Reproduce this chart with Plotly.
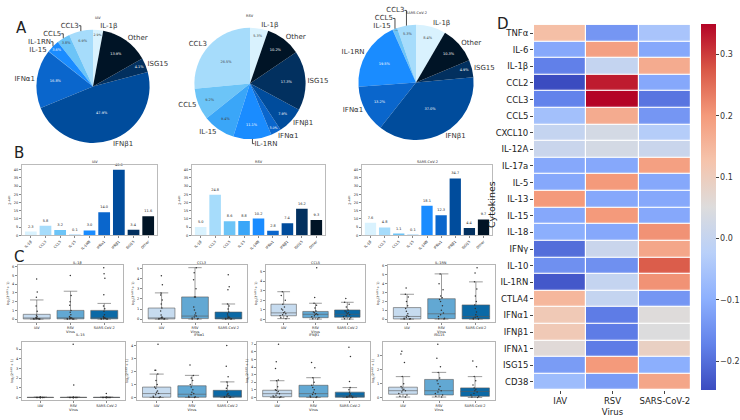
import plotly.graph_objects as go

W, H = 740, 420
FONT = "DejaVu Sans"

# ---------------- DATA ----------------
viruses = ["IAV", "RSV", "SARS-CoV-2"]

# Panel A (pie percentages)
pie_labels_iav = ["IL-1β", "CCL3", "CCL5", "IL-1RN", "IL-15", "IFNα1", "IFNβ1", "ISG15", "Other"]
pie_pct_iav = [2.9, 6.9, 3.8, 3.6, 0.1, 16.8, 47.9, 4.1, 13.9]
pie_labels = ["IL-1β", "CCL3", "CCL5", "IL-15", "IL-1RN", "IFNα1", "IFNβ1", "ISG15", "Other"]
pie_pct_rsv = [5.3, 26.5, 9.2, 9.4, 11.1, 3.0, 7.9, 17.3, 10.2]
pie_pct_sars = [8.4, 5.3, 1.3, 0.1, 19.5, 13.2, 37.0, 4.9, 10.3]

# Panel B (bar values, 2^-ddCt)
bar_categories = ["IL-1β", "CCL3", "CCL5", "IL-15", "IL-1RN", "IFNα1", "IFNβ1", "ISG15", "Other"]
bar_iav = [2.3, 5.8, 3.2, 0.1, 3.0, 14.0, 40.0, 3.4, 11.6]
bar_rsv = [5.0, 24.8, 8.6, 8.8, 10.2, 2.8, 7.4, 16.2, 9.3]
bar_sars = [7.6, 4.8, 1.1, 0.1, 18.1, 12.3, 34.7, 4.4, 9.7]

# Panel C (box statistics per virus: IAV, RSV, SARS-CoV-2)
box_genes = ["IL-1β", "CCL3", "CCL5", "IL-1RN", "IL-15", "IFNα1", "IFNβ1", "ISG15"]
box_q1 = {"IL-1β": [0.02, 0.03, 0.03], "CCL3": [0.02, 0.05, 0.02], "CCL5": [0.4, 0.2, 0.25],
          "IL-1RN": [0.02, 0.05, 0.02], "IL-15": [0.0, 0.0, 0.0], "IFNα1": [0.02, 0.02, 0.02],
          "IFNβ1": [0.1, 0.05, 0.02], "ISG15": [0.25, 0.2, 0.1]}
box_med = {"IL-1β": [0.08, 0.12, 0.12], "CCL3": [0.1, 0.3, 0.1], "CCL5": [0.7, 0.55, 0.55],
           "IL-1RN": [0.3, 0.6, 0.3], "IL-15": [0.0, 0.0, 0.0], "IFNα1": [0.3, 0.25, 0.1],
           "IFNβ1": [0.5, 0.5, 0.2], "ISG15": [0.5, 0.5, 0.45]}
box_q3 = {"IL-1β": [0.55, 1.0, 1.0], "CCL3": [1.1, 2.2, 0.7], "CCL5": [1.6, 0.85, 1.0],
          "IL-1RN": [1.3, 2.3, 1.6], "IL-15": [0.02, 0.02, 0.02], "IFNα1": [0.8, 0.9, 0.55],
          "IFNβ1": [0.95, 1.6, 0.7], "ISG15": [0.75, 1.3, 0.7]}
box_lo = {"IL-1β": [0.0, 0.0, 0.0], "CCL3": [0.0, 0.0, 0.0], "CCL5": [0.1, 0.05, 0.05],
          "IL-1RN": [0.0, 0.0, 0.0], "IL-15": [0.0, 0.0, 0.0], "IFNα1": [0.0, 0.0, 0.0],
          "IFNβ1": [0.0, 0.0, 0.0], "ISG15": [0.05, 0.05, 0.02]}
box_hi = {"IL-1β": [2.2, 3.2, 1.8], "CCL3": [2.6, 5.1, 1.5], "CCL5": [2.9, 1.7, 1.8],
          "IL-1RN": [2.8, 5.1, 4.2], "IL-15": [0.04, 0.04, 0.04], "IFNα1": [1.8, 1.7, 1.2],
          "IFNβ1": [2.2, 2.6, 1.3], "ISG15": [1.5, 1.8, 1.5]}
box_points = {
    "IL-1β": [[0, 0, 0.02, 0.03, 0.05, 0.05, 0.08, 0.1, 0.12, 0.2, 0.3, 0.45, 0.9, 1.5, 2.5, 3.1, 4.6],
              [0, 0, 0.02, 0.05, 0.05, 0.1, 0.1, 0.15, 0.2, 0.3, 0.5, 0.8, 1.0, 1.6, 2.0, 2.7, 5.0],
              [0, 0, 0.02, 0.03, 0.05, 0.08, 0.1, 0.15, 0.2, 0.3, 0.5, 0.9, 1.2, 1.5, 2.8, 4.7, 5.2, 5.9]],
    "CCL3": [[0, 0.02, 0.03, 0.05, 0.08, 0.1, 0.15, 0.2, 0.4, 0.8, 1.1, 1.5, 1.9, 2.4, 2.6, 3.4, 4.3],
             [0, 0.02, 0.05, 0.1, 0.2, 0.3, 0.4, 0.6, 0.9, 1.2, 2.2, 2.2, 3.0, 3.9, 4.6, 5.1],
             [0, 0.02, 0.03, 0.05, 0.08, 0.1, 0.15, 0.2, 0.3, 0.5, 0.7, 1.0, 1.3, 1.5, 2.9, 3.2, 4.4]],
    "CCL5": [[0.1, 0.2, 0.3, 0.4, 0.5, 0.6, 0.7, 0.8, 1.0, 1.1, 1.3, 1.6, 2.0, 2.5, 2.9],
             [0.05, 0.1, 0.2, 0.3, 0.4, 0.5, 0.55, 0.6, 0.7, 0.8, 0.9, 1.2, 1.5, 1.7, 2.3, 5.4],
             [0.05, 0.1, 0.2, 0.3, 0.4, 0.5, 0.6, 0.7, 0.8, 0.9, 1.0, 1.3, 1.6, 1.8, 2.2]],
    "IL-1RN": [[0, 0.02, 0.05, 0.1, 0.2, 0.3, 0.4, 0.6, 0.9, 1.2, 1.5, 2.0, 2.5, 2.8, 3.5],
               [0, 0.05, 0.1, 0.3, 0.5, 0.7, 1.0, 1.5, 2.0, 2.2, 2.4, 2.6, 3.3, 4.0, 5.1],
               [0, 0.02, 0.05, 0.1, 0.2, 0.3, 0.5, 0.8, 1.2, 1.6, 2.0, 2.6, 3.4, 4.2, 5.2, 5.8]],
    "IL-15": [[0, 0, 0, 0, 0, 0, 0, 0, 0, 0, 0, 0, 0.01, 0.02],
              [0, 0, 0, 0, 0, 0, 0, 0, 0, 0, 0, 0.01, 1.3, 5.5],
              [0, 0, 0, 0, 0, 0, 0, 0, 0, 0, 0, 0.01, 0.02, 0.4]],
    "IFNα1": [[0, 0.02, 0.05, 0.1, 0.2, 0.3, 0.4, 0.5, 0.7, 0.8, 1.0, 1.3, 1.8, 2.1, 2.1, 4.1],
              [0, 0.02, 0.05, 0.1, 0.2, 0.3, 0.4, 0.6, 0.8, 1.0, 1.3, 1.5, 1.7, 2.5],
              [0, 0.02, 0.03, 0.05, 0.1, 0.15, 0.2, 0.3, 0.5, 0.7, 0.9, 1.2, 1.6, 2.4, 4.0]],
    "IFNβ1": [[0, 0.05, 0.1, 0.2, 0.3, 0.5, 0.6, 0.8, 0.9, 1.0, 1.4, 2.2, 2.3, 3.8, 4.7, 7.0],
              [0, 0.05, 0.1, 0.2, 0.4, 0.5, 0.7, 1.0, 1.3, 1.6, 2.0, 2.6, 3.9, 4.6],
              [0, 0.02, 0.05, 0.1, 0.15, 0.2, 0.3, 0.5, 0.7, 1.0, 1.3, 2.1, 5.4, 6.6]],
    "ISG15": [[0.05, 0.1, 0.2, 0.3, 0.4, 0.5, 0.55, 0.6, 0.7, 0.8, 1.0, 1.5, 2.5, 3.1, 3.3],
              [0.05, 0.1, 0.2, 0.3, 0.4, 0.5, 0.6, 0.8, 1.0, 1.2, 1.4, 1.8, 2.2, 2.8, 3.8],
              [0.02, 0.05, 0.1, 0.2, 0.3, 0.4, 0.5, 0.6, 0.7, 0.9, 1.2, 1.5, 2.2, 2.6]],
}

# Panel D (heatmap values)
cytokines = ["TNFα", "IL-6", "IL-1β", "CCL2", "CCL3", "CCL5", "CXCL10", "IL-12A", "IL-17a", "IL-5",
             "IL-13", "IL-15", "IL-18", "IFNγ", "IL-10", "IL-1RN", "CTLA4", "IFNα1", "IFNβ1", "IFNλ1",
             "ISG15", "CD38"]
heat_iav = [0.135, -0.11, -0.175, -0.247, -0.17, -0.06, 0.0, 0.01, -0.11, -0.11, 0.2, -0.11, -0.1,
            -0.2, -0.15, -0.23, 0.15, 0.11, 0.11, 0.06, -0.13, -0.07]
heat_rsv = [-0.14, 0.19, 0.0, 0.33, 0.35, 0.17, 0.03, 0.03, -0.11, 0.2, -0.11, 0.2, -0.11,
            0.01, -0.15, 0.0, 0.0, -0.18, -0.18, -0.18, 0.2, -0.13]
heat_sars = [-0.05, -0.11, 0.17, -0.11, -0.19, -0.14, -0.03, 0.01, 0.19, -0.11, -0.11, -0.11, 0.21,
             0.18, 0.27, 0.21, -0.14, 0.055, 0.05, 0.09, -0.1, 0.18]
heat_ticks = [-0.2, -0.1, 0.0, 0.1, 0.2, 0.3]
heat_zmin, heat_zmax = -0.247, 0.35

# ---------------- STYLE ----------------
cat_colors = {"IL-1β": "#d9f2fe", "CCL3": "#a6dcfb", "CCL5": "#6cc4f7", "IL-15": "#3aa6f8",
              "IL-1RN": "#1a8cff", "IFNα1": "#0a66cc", "IFNβ1": "#004c9c", "ISG15": "#02305f",
              "Other": "#001426"}
box_colors = ["#c6dbef", "#62a8d3", "#0b69a6"]
coolwarm = [[0.0, "#3b4cc0"], [0.125, "#6282ea"], [0.25, "#8db0fe"], [0.375, "#b9d0f9"],
            [0.5, "#dddcdc"], [0.625, "#f5c4ac"], [0.75, "#f49a7b"], [0.875, "#d95847"],
            [1.0, "#b40426"]]


def dx(a, b):
    return [a / W, b / W]


def dy(top, bottom):
    return [1 - bottom / H, 1 - top / H]


def sfx(k):
    return "" if k == 1 else str(k)


fig = go.Figure()
layout = dict(width=W, height=H, margin=dict(l=0, r=0, t=0, b=0), showlegend=False,
              paper_bgcolor="white", plot_bgcolor="white",
              font=dict(family=FONT, color="#222"))
annotations = []


def add_text(x, y, text, size, **kw):
    annotations.append(dict(x=x / W, y=1 - y / H, xref="paper", yref="paper", text=text,
                            showarrow=False, font=dict(size=size, family=FONT, color=kw.pop("color", "#222")),
                            **kw))


# ---------------- Panel A: pies ----------------
pies = [("IAV", pie_labels_iav, pie_pct_iav, (93, 86, 57)),
        ("RSV", pie_labels, pie_pct_rsv, (250, 83, 56)),
        ("SARS-CoV-2", pie_labels, pie_pct_sars, (416, 82, 58))]
for name, labs, vals, (cx, cy, r) in pies:
    dom = dict(x=dx(cx - r, cx + r), y=dy(cy - r, cy + r))
    fig.add_trace(go.Pie(labels=labs, values=vals, sort=False, direction="counterclockwise",
                         marker=dict(colors=[cat_colors[l] for l in labs], line=dict(width=0)),
                         texttemplate="%{value:.1f}%", textposition="inside",
                         insidetextorientation="horizontal", textfont=dict(size=3.5, family=FONT),
                         domain=dom, hoverinfo="skip"))
    fig.add_trace(go.Pie(labels=labs, values=vals, sort=False, direction="counterclockwise",
                         marker=dict(colors=["rgba(0,0,0,0)"] * len(labs), line=dict(width=0)),
                         texttemplate="%{label}", textposition="outside",
                         textfont=dict(size=7, family=FONT, color="#333"),
                         domain=dom, hoverinfo="skip"))
    add_text(cx, cy - r - 16, name, 3.5)

# ---------------- Panel B: bars ----------------
bar_frames = [(22, 157), (192, 325), (362, 492)]
bar_top, bar_bot = 165, 236
for k, (name, vals, (x0, x1)) in enumerate(zip(viruses, [bar_iav, bar_rsv, bar_sars], bar_frames), start=1):
    fig.add_trace(go.Bar(x=bar_categories, y=vals, marker=dict(color=[cat_colors[c] for c in bar_categories],
                                                               line=dict(width=0)),
                         width=0.8, texttemplate="%{y:.1f}", textposition="outside",
                         textfont=dict(size=3.5, family=FONT), cliponaxis=False,
                         xaxis="x" + sfx(k), yaxis="y" + sfx(k), hoverinfo="skip"))
    layout["xaxis" + sfx(k)] = dict(domain=dx(x0, x1), anchor="y" + sfx(k), showline=True, mirror=True,
                                    linecolor="#bbbbbb", linewidth=1, ticks="outside", ticklen=2,
                                    tickcolor="#888", tickangle=-45, tickfont=dict(size=3.5),
                                    range=[-0.6, 8.6], showgrid=False)
    layout["yaxis" + sfx(k)] = dict(domain=dy(bar_top, bar_bot), anchor="x" + sfx(k), showline=True,
                                    mirror=True, linecolor="#bbbbbb", linewidth=1, ticks="outside",
                                    ticklen=2, tickcolor="#888", tickfont=dict(size=3.5),
                                    range=[0, 43], dtick=5, showgrid=False,
                                    title=dict(text="2<sup>-ΔΔCt</sup>", font=dict(size=3.5), standoff=2))
    add_text((x0 + x1) / 2, bar_top - 3, name, 3.5)

# ---------------- Panel C: boxes ----------------
box_frames = [(18, 123, 266, 323), (143, 247, 266, 323), (266, 365, 266, 323), (388, 495, 266, 323),
              (22, 125, 343, 402), (137, 247, 343, 402), (257, 370, 343, 402), (383, 495, 343, 402)]
for i, gene in enumerate(box_genes):
    k = 4 + i
    x0, x1, t, b = box_frames[i]
    allpts = [p for grp in box_points[gene] for p in grp]
    lo, hi = min(allpts), max(allpts)
    span = hi - lo
    for j, v in enumerate(viruses):
        fig.add_trace(go.Box(x=[v], q1=[box_q1[gene][j]], median=[box_med[gene][j]], q3=[box_q3[gene][j]],
                             lowerfence=[box_lo[gene][j]], upperfence=[box_hi[gene][j]],
                             fillcolor=box_colors[j], line=dict(color="#5a5a5a", width=0.6),
                             width=0.8, whiskerwidth=0.5, boxpoints=False,
                             xaxis="x" + str(k), yaxis="y" + str(k), hoverinfo="skip"))
        pts = box_points[gene][j]
        fig.add_trace(go.Box(x=[v] * len(pts), y=pts, boxpoints="all", jitter=0.35, pointpos=0,
                             fillcolor="rgba(0,0,0,0)", line=dict(color="rgba(0,0,0,0)", width=0),
                             marker=dict(size=1.5, color="#333333"), width=0.8,
                             xaxis="x" + str(k), yaxis="y" + str(k), hoverinfo="skip"))
    layout["xaxis" + str(k)] = dict(domain=dx(x0, x1), anchor="y" + str(k), showline=True, mirror=True,
                                    linecolor="#b5b5b5", linewidth=1.2, ticks="outside", ticklen=2,
                                    tickcolor="#888", tickfont=dict(size=3.5), showgrid=False,
                                    categoryorder="array", categoryarray=viruses,
                                    title=dict(text="Virus", font=dict(size=3.5), standoff=1))
    layout["yaxis" + str(k)] = dict(domain=dy(t, b), anchor="x" + str(k), showline=True, mirror=True,
                                    linecolor="#b5b5b5", linewidth=1.2, ticks="outside", ticklen=2,
                                    tickcolor="#888", tickfont=dict(size=3.5), showgrid=False,
                                    zeroline=False, dtick=1,
                                    range=[lo - 0.05 * span, hi + 0.05 * span],
                                    title=dict(text="log<sub>2</sub>(2<sup>-ΔΔCt</sup> + 1)",
                                               font=dict(size=3.2), standoff=2))
    add_text((x0 + x1) / 2, t - 2.5, gene, 3.5)

# ---------------- Panel D: heatmap ----------------
z = [[a, b, c] for a, b, c in zip(heat_iav, heat_rsv, heat_sars)]
hx0, hx1, ht, hb = 534, 691, 24, 392
fig.add_trace(go.Heatmap(z=z, x=viruses, y=cytokines, colorscale=coolwarm, zmin=heat_zmin, zmax=heat_zmax,
                         xgap=1.2, ygap=1.2, xaxis="x12", yaxis="y12", hoverinfo="skip",
                         colorbar=dict(x=701 / W, xanchor="left", xpad=0, y=1 - 23 / H, yanchor="top",
                                       ypad=0, len=(392 - 23) / H, lenmode="fraction", thickness=15,
                                       outlinewidth=0, tickvals=heat_ticks,
                                       ticktext=[f"{v:.1f}".replace("-", "−") for v in heat_ticks],
                                       ticks="outside", ticklen=3, tickcolor="#444",
                                       tickfont=dict(size=8, family=FONT, color="#333"))))
layout["xaxis12"] = dict(domain=dx(hx0, hx1), anchor="y12", showline=False, ticks="outside", ticklen=3,
                         tickcolor="#444", tickfont=dict(size=8.5), showgrid=False,
                         title=dict(text="Virus", font=dict(size=8.5), standoff=3))
layout["yaxis12"] = dict(domain=dy(ht, hb), anchor="x12", showline=False, ticks="outside", ticklen=3,
                         tickcolor="#444", tickfont=dict(size=8.5), showgrid=False, autorange="reversed")
add_text(499, 205, "Cytokines", 9.5, textangle=-90)

# panel letters
add_text(14, 16, "A", 15)
add_text(12, 153, "B", 15)
add_text(12, 258, "C", 15)
add_text(511, 12, "D", 15)

layout["annotations"] = annotations
fig.update_layout(**layout)
fig.write_html("out.html")
